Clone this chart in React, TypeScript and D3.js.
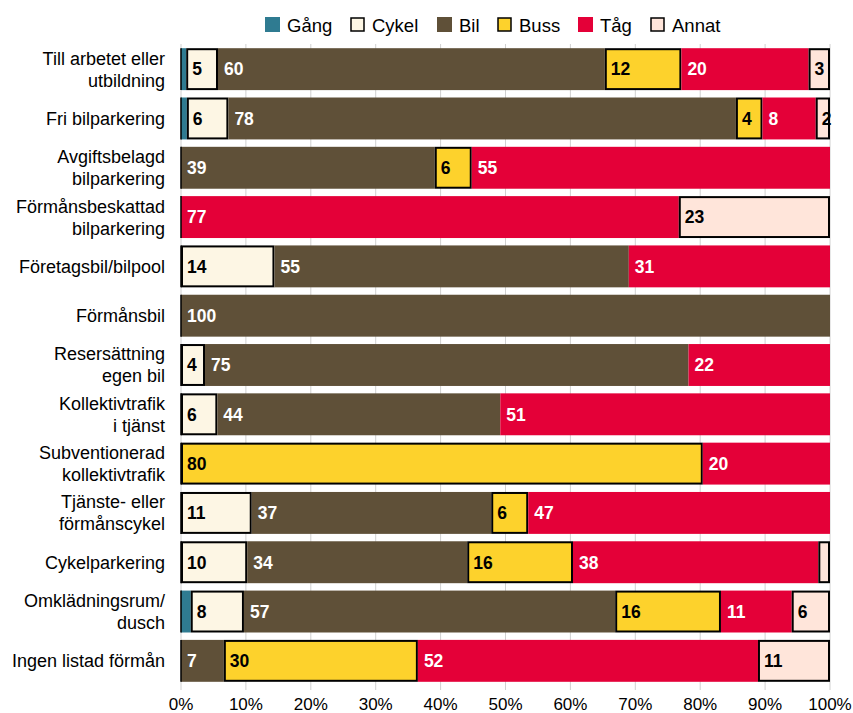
import React from 'react';
import * as d3 from 'd3';

const categories = [
  'Till arbetet eller|utbildning',
  'Fri bilparkering',
  'Avgiftsbelagd|bilparkering',
  'Förmånsbeskattad|bilparkering',
  'Företagsbil/bilpool',
  'Förmånsbil',
  'Resersättning|egen bil',
  'Kollektivtrafik|i tjänst',
  'Subventionerad|kollektivtrafik',
  'Tjänste- eller|förmånscykel',
  'Cykelparkering',
  'Omklädningsrum/|dusch',
  'Ingen listad förmån',
];

const modes = ['Gång', 'Cykel', 'Bil', 'Buss', 'Tåg', 'Annat'];

const gang = [0.8, 0.9, 0, 0, 0, 0, 0, 0, 0, 0, 0, 1.5, 0];
const cykel = [4.9, 6.4, 0, 0, 14.4, 0, 3.7, 5.6, 0, 10.9, 10.2, 8.2, 0];
const bil = [59.6, 78.2, 39.1, 0, 54.6, 100, 74.5, 43.6, 0, 36.9, 33.9, 57.2, 6.6];
const buss = [11.8, 4.1, 5.7, 0, 0, 0, 0, 0, 80.4, 5.7, 16.3, 16.3, 29.9];
const tag = [19.6, 8.2, 55.2, 76.7, 31.0, 0, 21.8, 50.8, 19.6, 46.5, 37.8, 10.9, 52.4];
const annat = [3.3, 2.2, 0, 23.3, 0, 0, 0, 0, 0, 0, 1.8, 5.9, 11.1];

const ticks = [0, 10, 20, 30, 40, 50, 60, 70, 80, 90, 100];

const colors = ['#2f7b91', '#fdf6e4', '#5f5038', '#fdd22c', '#e40038', '#ffe5da'];
const light = [false, true, false, true, false, true];

const W = 853;
const H = 713;
const font = 'Liberation Sans, Arial, sans-serif';

export default function App() {
  const rows = categories.map((c, i) => ({
    cat: c,
    vals: [gang[i], cykel[i], bil[i], buss[i], tag[i], annat[i]],
  }));

  const x = d3.scaleLinear().domain([0, 100]).range([181, 830]);
  const y = d3
    .scaleBand<string>()
    .domain(categories)
    .range([44.5, 685.5])
    .paddingInner(0.15)
    .paddingOuter(0.075);

  const legendX = [265, 350, 437, 497, 578, 650];

  return (
    <svg
      width={W}
      height={H}
      style={{ position: 'absolute', left: 0, top: 0, background: '#fff' }}
      fontFamily={font}
    >
      {/* grid */}
      {ticks.map((t) => (
        <line
          key={'g' + t}
          x1={x(t)}
          x2={x(t)}
          y1={44}
          y2={690}
          stroke="#d0d0d0"
          strokeWidth={1}
        />
      ))}

      {/* bars */}
      {rows.map((r) => {
        let acc = 0;
        const y0 = y(r.cat)!;
        const bh = y.bandwidth();
        return (
          <g key={r.cat}>
            {r.vals.map((v, k) => {
              const start = acc;
              acc += v;
              if (v <= 0) return null;
              const x0 = x(start);
              const w = x(start + v) - x0;
              return (
                <g key={k}>
                  <rect
                    x={light[k] ? x0 + 1 : x0}
                    y={light[k] ? y0 + 1 : y0}
                    width={light[k] ? Math.max(w - 2, 0) : w}
                    height={light[k] ? bh - 2 : bh}
                    fill={colors[k]}
                    stroke={light[k] ? '#000' : 'none'}
                    strokeWidth={2}
                  />
                  {v >= 2 && (
                    <text
                      x={x0 + 6}
                      y={y0 + bh / 2}
                      dy="0.36em"
                      fontSize={17.5}
                      fontWeight="bold"
                      fill={light[k] ? '#000' : '#fff'}
                    >
                      {Math.round(v)}
                    </text>
                  )}
                </g>
              );
            })}
            <line
              x1={x(0)}
              x2={x(0)}
              y1={y0}
              y2={y0 + bh}
              stroke="#000"
              strokeWidth={1.5}
            />
          </g>
        );
      })}

      {/* category labels */}
      {rows.map((r) => {
        const lines = r.cat.split('|');
        const cy = y(r.cat)! + y.bandwidth() / 2;
        return (
          <text
            key={'l' + r.cat}
            x={165}
            textAnchor="end"
            fontSize={18}
            fill="#000"
          >
            {lines.map((ln, j) => (
              <tspan
                key={j}
                x={165}
                y={cy + (j - (lines.length - 1) / 2) * 22}
                dy="0.36em"
              >
                {ln}
              </tspan>
            ))}
          </text>
        );
      })}

      {/* x axis labels */}
      {ticks.map((t) => (
        <text
          key={'t' + t}
          x={x(t)}
          y={704}
          dy="0.36em"
          textAnchor="middle"
          fontSize={17}
          fill="#000"
        >
          {t + '%'}
        </text>
      ))}

      {/* legend */}
      {modes.map((m, k) => (
        <g key={m} transform={`translate(${legendX[k]},24)`}>
          <rect
            x={light[k] ? 1 : 0}
            y={light[k] ? -6 : -7}
            width={light[k] ? 13 : 15}
            height={light[k] ? 13 : 15}
            fill={colors[k]}
            stroke={light[k] ? '#000' : 'none'}
            strokeWidth={1.5}
          />
          <text x={22} y={1} dy="0.36em" fontSize={18.5} fill="#000">
            {m}
          </text>
        </g>
      ))}
    </svg>
  );
}
